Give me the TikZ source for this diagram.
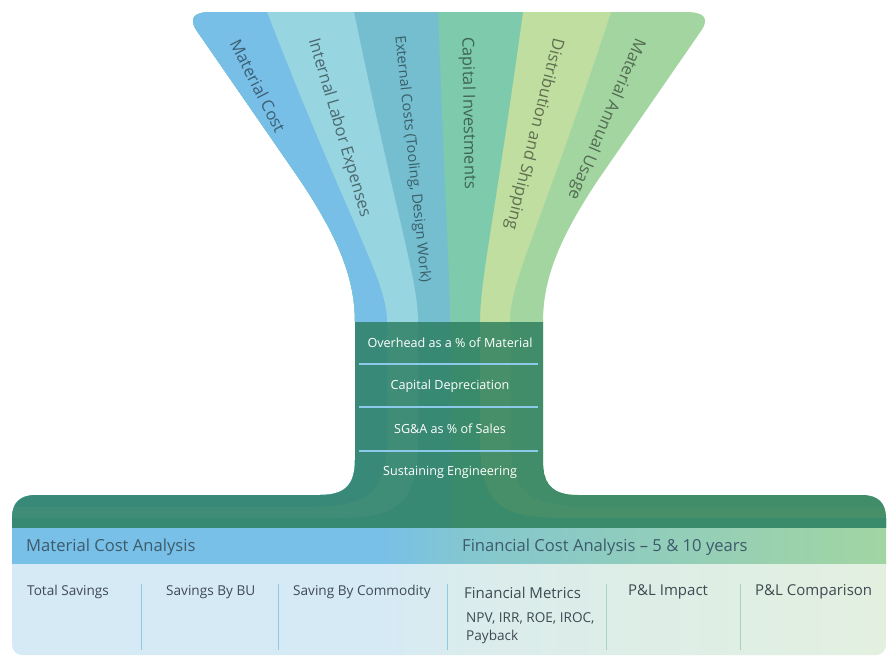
\documentclass[tikz,border=0pt]{standalone}
\usepackage{fontspec}
\setmainfont{Open Sans}
\usetikzlibrary{calc}

\definecolor{bandmat}{HTML}{78BFE8}
\definecolor{bandlab}{HTML}{97D5E0}
\definecolor{bandext}{HTML}{74BED0}
\definecolor{bandcap}{HTML}{7DCAAD}
\definecolor{banddis}{HTML}{BFDE9F}
\definecolor{bandann}{HTML}{A3D5A1}
\definecolor{neckgreen}{HTML}{2A7C5C}
\definecolor{hdrblue}{HTML}{78C0E8}
\definecolor{hdrteal}{HTML}{84C7CF}
\definecolor{hdrgreen}{HTML}{A2D5A2}
\definecolor{panelblue}{HTML}{D6EAF6}
\definecolor{panelteal}{HTML}{DAECEC}
\definecolor{panelgreen}{HTML}{E3F0E0}
\definecolor{hdrtext}{HTML}{3D5B6B}
\definecolor{paneltext}{HTML}{3F4A52}
\definecolor{sepblue}{HTML}{8DC9EA}
\definecolor{sepgreen}{HTML}{A9D5C0}

\begin{document}
\begin{tikzpicture}[x=1pt, y=-1pt]
        % Stiluri
        \tikzstyle{bandlabel} = [text=black, text opacity=0.5, inner sep=0pt, font=\fontsize{16.5}{19}\selectfont]
        \tikzstyle{rowlabel} = [text=white, inner sep=0pt, font=\fontsize{12.6}{15}\selectfont]
        \tikzstyle{hdrlabel} = [anchor=west, inner sep=0pt, text=hdrtext, font=\fontsize{16.6}{19}\selectfont]
        \tikzstyle{itemlabel} = [anchor=west, inner sep=0pt, text=paneltext, font=\fontsize{13.6}{16}\selectfont]
        \tikzstyle{itembig} = [itemlabel, font=\fontsize{15}{18}\selectfont]
        \tikzstyle{rowsep} = [draw=sepblue, line width=1.2pt]
        \tikzstyle{colsep} = [line width=1pt]

        \useasboundingbox (0,0) rectangle (889,657);

        % --- PALNIA (contur) ---
        \def\funnelshape{(355,322) .. controls (355,280) and (340,240) .. (300,180)
            -- (197,31) .. controls (188,18) and (194,12) .. (212,12)
            -- (686,12) .. controls (704,12) and (710,18) .. (701,31)
            -- (598,180) .. controls (558,240) and (543,280) .. (543,322)
            -- (543,460) .. controls (543,485) and (553,495) .. (578,495)
            -- (862,495) .. controls (878,495) and (886,503) .. (886,518)
            -- (886,528) -- (12,528) -- (12,518)
            .. controls (12,503) and (20,495) .. (36,495)
            -- (320,495) .. controls (345,495) and (355,485) .. (355,460) -- cycle}

        \begin{scope}
            \clip \funnelshape;
            % benzi, de la dreapta la stanga
            \fill [bandann] (0,0) rectangle (889,540);
            \fill [banddis] (0,0) -- (611,0) -- (611,12) .. controls (540,229) and (510,280) .. (510,322)
                -- (510,440) .. controls (510,500) and (537,507) .. (597,507) -- (900,507) -- (900,540) -- (0,540) -- cycle;
            \fill [bandcap] (0,0) -- (523,0) -- (523,12) .. controls (493,229) and (480,280) .. (480,322)
                -- (480,440) .. controls (480,512) and (508,518) .. (568,518) -- (900,518) -- (900,540) -- (0,540) -- cycle;
            \fill [bandext] (0,0) -- (438,0) -- (438,12) .. controls (446,229) and (450,280) .. (450,322)
                -- (450,540) -- (0,540) -- cycle;
            \fill [bandlab] (0,0) -- (354,0) -- (354,12) .. controls (399,229) and (418,280) .. (418,322)
                -- (418,440) .. controls (418,512) and (390,518) .. (330,518) -- (0,518) -- cycle;
            \fill [bandmat] (0,0) -- (267,0) -- (267,12) .. controls (351,229) and (387,280) .. (387,322)
                -- (387,440) .. controls (387,500) and (360,507) .. (300,507) -- (0,507) -- cycle;
            % gatul si bara, verde inchis
            \fill [neckgreen, opacity=0.8] (355,322) -- (543,322) -- (543,460)
                .. controls (543,485) and (553,495) .. (578,495) -- (900,495) -- (900,528)
                -- (0,528) -- (0,495) -- (320,495) .. controls (345,495) and (355,485) .. (355,460) -- cycle;
        \end{scope}

        % --- ETICHETE BENZI ---
        \node [bandlabel, rotate=-63] (lbl_mat) at (258,86) {Material Cost};
        \node [bandlabel, rotate=-73.5] (lbl_lab) at (339,128) {Internal Labor Expenses};
        \node [bandlabel, rotate=-84, font=\fontsize{14.4}{17}\selectfont] (lbl_ext) at (412,159) {External Costs (Tooling, Design Work)};
        \node [bandlabel, rotate=-89] (lbl_cap) at (468,113) {Capital Investments};
        \node [bandlabel, rotate=-104] (lbl_dis) at (534,134) {Distribution and Shipping};
        \node [bandlabel, rotate=-113] (lbl_ann) at (606,119) {Material Annual Usage};

        % --- GAT (randuri) ---
        \node [rowlabel] (row_ovh) at (450,343) {Overhead as a \% of Material};
        \node [rowlabel] (row_dep) at (450,386) {Capital Depreciation};
        \node [rowlabel] (row_sga) at (450,429) {SG\&A as \% of Sales};
        \node [rowlabel] (row_eng) at (450,472) {Sustaining Engineering};
        \draw [rowsep] (359,364) -- (538,364);
        \draw [rowsep] (359,407) -- (538,407);
        \draw [rowsep] (359,451) -- (538,451);

        % --- ANTET si PANOU ---
        \begin{scope}
            \clip [rounded corners=10pt] (12,500) rectangle (886,655);
            \fill [hdrblue] (0,528) rectangle (380,564);
            \shade [left color=hdrblue, right color=hdrteal] (380,528) rectangle (470,564);
            \shade [left color=hdrteal, right color=hdrgreen] (470,528) rectangle (890,564);
            \fill [panelblue] (0,564) rectangle (380,660);
            \shade [left color=panelblue, right color=panelteal] (380,564) rectangle (470,660);
            \shade [left color=panelteal, right color=panelgreen] (470,564) rectangle (890,660);
        \end{scope}

        \node [hdrlabel] (hdr_mat) at (26,547) {Material Cost Analysis};
        \node [hdrlabel] (hdr_fin) at (462,547) {Financial Cost Analysis – 5 \& 10 years};

        \node [itemlabel] (itm_tot) at (27,592) {Total Savings};
        \node [itemlabel] (itm_bu) at (166,592) {Savings By BU};
        \node [itemlabel] (itm_com) at (293,592) {Saving By Commodity};
        \node [itembig] (itm_fin) at (464,593) {Financial Metrics};
        \node [itemlabel] (itm_npv) at (466,618) {NPV, IRR, ROE, IROC,};
        \node [itemlabel] (itm_pay) at (466,637) {Payback};
        \node [itembig] (itm_pl) at (628,592) {P\&L Impact};
        \node [itembig] (itm_cmp) at (755,592) {P\&L Comparison};

        \draw [colsep, sepblue] (141,584) -- (141,650);
        \draw [colsep, sepblue] (278,584) -- (278,650);
        \draw [colsep, sepblue] (447,584) -- (447,650);
        \draw [colsep, sepgreen] (606,584) -- (606,650);
        \draw [colsep, sepgreen] (740,584) -- (740,650);

    \end{tikzpicture}
\end{document}
